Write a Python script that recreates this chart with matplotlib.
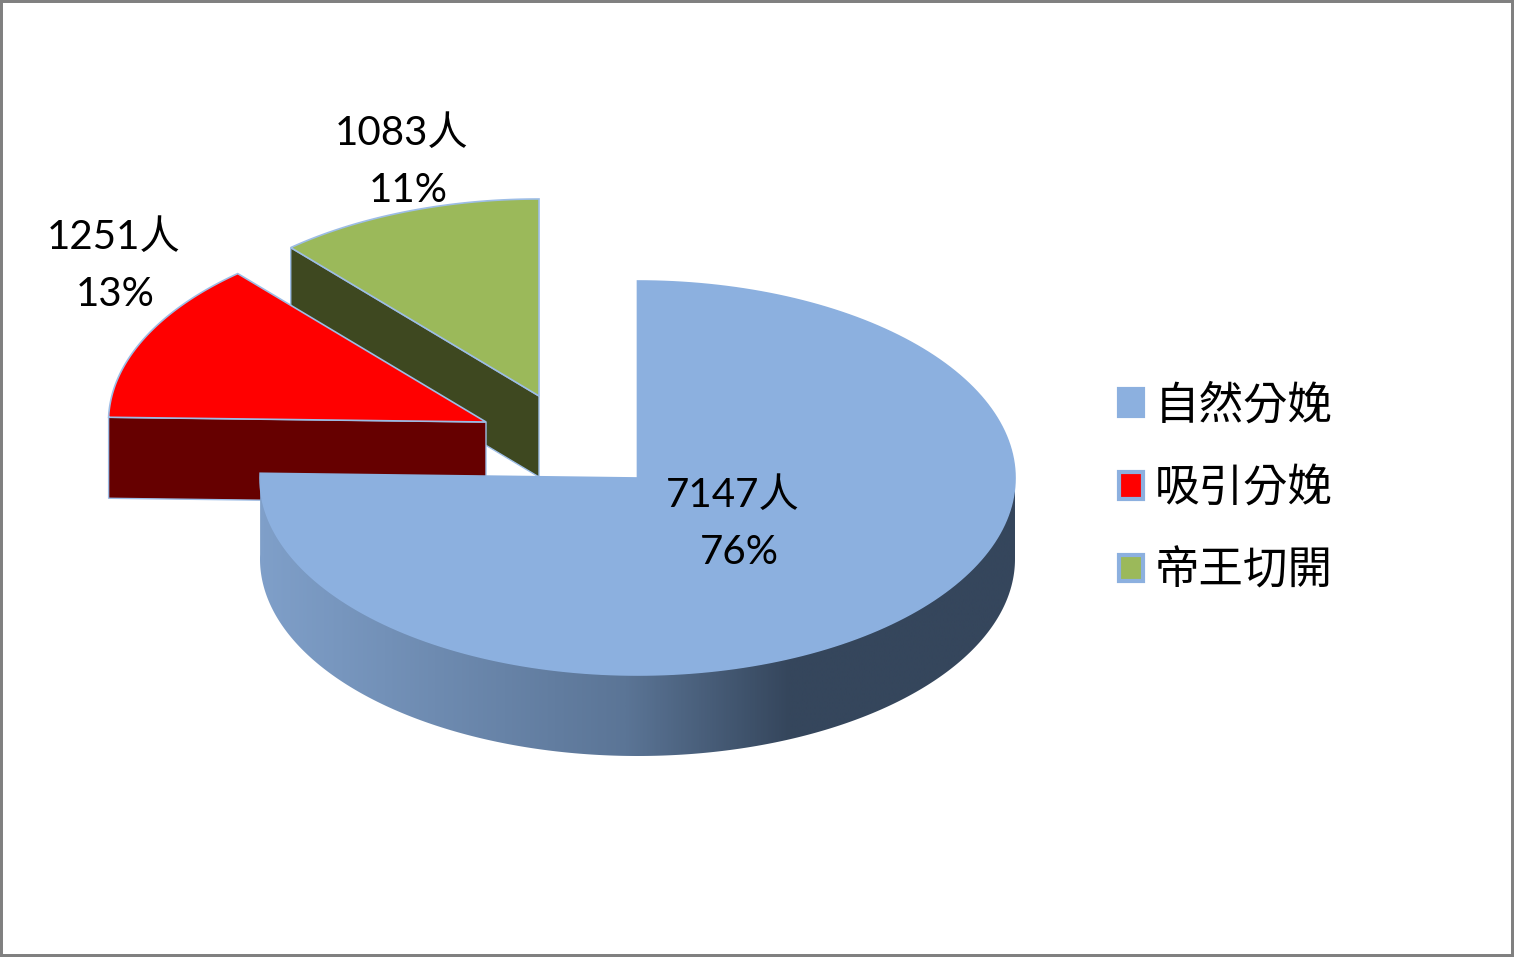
import numpy as np
import matplotlib
matplotlib.use("Agg")
import matplotlib.pyplot as plt
from matplotlib.colors import LinearSegmentedColormap
from matplotlib.patches import Patch, Polygon

categories = ["自然分娩", "吸引分娩", "帝王切開"]
counts = [7147, 1251, 1083]
percents = [76, 13, 11]
top_colors = ["#8cb0df", "#ff0000", "#9bb95a"]
top_edges = ["#8cb0df", "#9dbde6", "#9dbde6"]
side_colors = [None, "#660000", "#3e4820"]
edge_color = "#9dbde6"

W, H = 1514, 957
RX, RY, DEPTH = 377.5, 197, 81
apexes = [(637.5, 478), (486, 422), (539, 396)]
count_label_pos = [(733, 495), (114, 237), (402, 133)]
pct_label_pos = [(739, 552), (115, 294), (408, 190)]
FONT = ["Lato", "Noto Sans CJK TC"]

fig = plt.figure(figsize=(W / 100, H / 100), dpi=100, facecolor="white")
ax = fig.add_axes([0, 0, 1, 1])
ax.set_xlim(0, W)
ax.set_ylim(H, 0)
ax.set_xticks([])
ax.set_yticks([])
for s in ax.spines.values():
    s.set_color("#808080")
    s.set_linewidth(4.3)


def rim(apex, t):
    t = np.asarray(t)
    return np.column_stack((apex[0] + RX * np.sin(t), apex[1] - RY * np.cos(t)))


fractions = np.array(counts) / sum(counts)
bounds = np.concatenate(([0], np.cumsum(fractions))) * 2 * np.pi


def wedge_top(i):
    t = np.linspace(bounds[i], bounds[i + 1], 200)
    return np.vstack(([apexes[i]], rim(apexes[i], t)))


def draw_top(i, z):
    ax.add_patch(Polygon(wedge_top(i), closed=True, fc=top_colors[i], ec=top_edges[i],
                         lw=1.2, joinstyle="miter", zorder=z))


def draw_cut_side(i, t, z):
    a = np.array(apexes[i], float)
    r = rim(apexes[i], [t])[0]
    d = np.array([0, DEPTH])
    ax.add_patch(Polygon([r, a, a + d, r + d], closed=True, fc=side_colors[i],
                         ec=edge_color, lw=1.0, zorder=z))


# green slice (back)
draw_cut_side(2, bounds[2], 1)
draw_top(2, 2)
# red slice
draw_cut_side(1, bounds[1], 3)
draw_top(1, 4)

# blue slice: curved outer wall with a horizontal gradient
t_wall = np.linspace(np.pi / 2, bounds[1], 300)
upper = rim(apexes[0], t_wall)
lower = upper + [0, DEPTH]
wall = Polygon(np.vstack((upper, lower[::-1])), closed=True, fc="none", ec="none", zorder=5)
ax.add_patch(wall)
cmap = LinearSegmentedColormap.from_list("wall", ["#35465c", "#35465c", "#5b7596", "#7f9fc9"])
left, right = apexes[0][0] - RX, apexes[0][0] + RX
stops = np.interp(np.linspace(left, right, 512), [left, 625, 790, right], [1.0, 0.667, 0.333, 0.0])[None, :]
im = ax.imshow(stops, extent=(left, right, 800, 400), cmap=cmap, vmin=0, vmax=1,
               aspect="auto", zorder=5, interpolation="bilinear")
im.set_clip_path(wall)
ax.set_xlim(0, W)
ax.set_ylim(H, 0)
draw_top(0, 6)

# data labels
for c, p, cp, pp in zip(counts, percents, count_label_pos, pct_label_pos):
    ax.text(cp[0], cp[1], f"{c}人", family=FONT, fontsize=29, ha="center", va="center",
            color="#000000", zorder=10)
    ax.text(pp[0], pp[1], f"{p}%", family=FONT, fontsize=29, ha="center", va="center",
            color="#000000", zorder=10)

# legend
handles = [Patch(fc=c, ec="#8cb0df", lw=3) for c in top_colors]
leg = ax.legend(handles, categories, loc="center left", bbox_to_anchor=(1119, 488),
                bbox_transform=ax.transData, frameon=False,
                prop={"family": "Noto Sans CJK TC", "size": 32},
                handlelength=0.54, handleheight=0.54, handletextpad=0.27,
                labelspacing=0.83, borderpad=0, borderaxespad=0)
leg.set_zorder(10)

fig.savefig("out.png", dpi=100, facecolor="white")
